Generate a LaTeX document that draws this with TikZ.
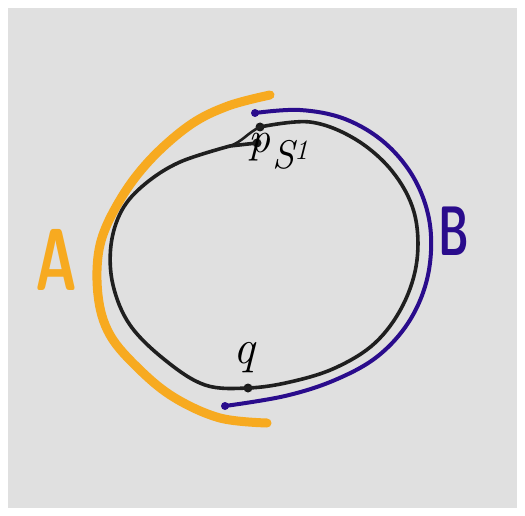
\documentclass[tikz,border=0pt]{standalone}
\usetikzlibrary{positioning}
\definecolor{penorange}{RGB}{247,170,32}
\definecolor{penblue}{RGB}{42,12,140}
\definecolor{paper}{RGB}{224,224,224}

\begin{document}
\begin{tikzpicture}[x=1pt, y=-1pt, line cap=round, line join=round,
	loopline/.style={draw=black!88, line width=3.6pt},
	arcA/.style={draw=penorange, line width=9pt},
	arcB/.style={draw=penblue, line width=4pt},
	dot/.style={circle, fill=black!90, inner sep=0pt, minimum size=9pt},
	bluedot/.style={circle, fill=penblue, inner sep=0pt, minimum size=8pt},
	lbl/.style={inner sep=0pt}]
	\useasboundingbox (0,0) rectangle (525,516);
	\fill[paper] (8,8) rectangle (517,508);
	% points on the loop
	\node[dot] (top) at (260,127) {};
	\node[dot] (pdot) at (257,143) {};
	\node[dot] (q) at (248,388) {};
	\coordinate (split) at (230,146);
	% arc B
	\node[bluedot] (bstart) at (255,113) {};
	\node[bluedot] (bend) at (225,406) {};
	\draw[arcB] plot[smooth, tension=0.6] coordinates {(bstart.center) (300,110) (345,119)
		(385,143) (415,180) (430,225) (428,275) (410,320) (378,356) (335,380)
		(285,396) (bend.center)};
	% arc A
	\coordinate (astart) at (270,95);
	\coordinate (aend) at (267,423);
	\draw[arcA] plot[smooth, tension=0.6] coordinates {(astart) (228,106) (190,125)
		(150,160) (120,200) (100,245) (98,295) (110,335) (140,370) (175,398)
		(220,418) (aend)};
	% the loop
	\draw[loopline] plot[smooth, tension=0.6] coordinates {(top.center) (310,122)
		(355,139) (392,171) (414,212) (417,260) (403,305) (375,343) (335,368)
		(290,382) (q.center) (205,385) (165,360) (130,325) (113,285) (111,245)
		(122,210) (145,184) (180,162) (split)};
	\draw[loopline, line width=2.6pt] (split) to[out=20, in=205] (top.center);
	\draw[loopline] (split) -- (pdot.center);
	% labels
	\node[lbl, anchor=base, font=\fontsize{44}{44}\itshape] (plbl) at (259,153) {p};
	\node[lbl, anchor=base west, font=\fontsize{40}{40}\itshape] (circ) at (272,169) {S\textsuperscript{1}};
	\node[lbl, anchor=base, font=\fontsize{48}{48}\itshape] (qlbl) at (244,363) {q};
	\node[lbl, anchor=base, text=penorange, xscale=0.65,
		font=\fontsize{88}{88}\sffamily\bfseries] (A) at (56,290) {A};
	\node[lbl, anchor=base, text=penblue, xscale=0.6,
		font=\fontsize{70}{70}\sffamily\bfseries] (B) at (454,255) {B};
\end{tikzpicture}
\end{document}
